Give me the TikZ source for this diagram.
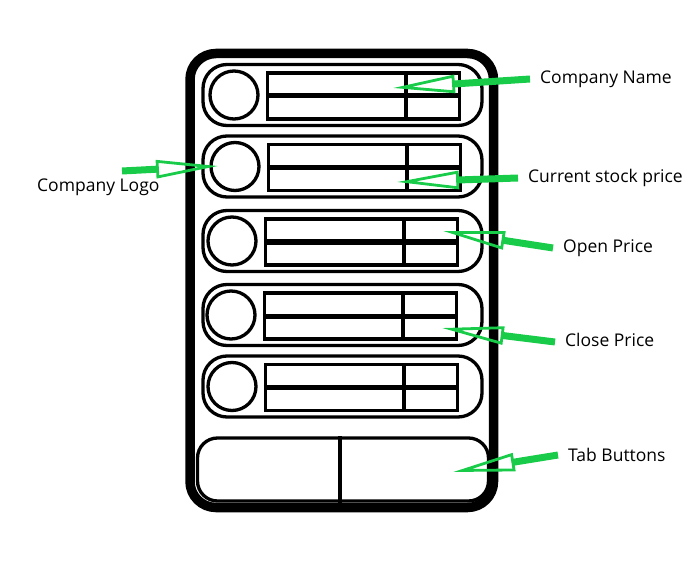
\documentclass[tikz,border=0pt]{standalone}
\usepackage{fontspec}
\setmainfont{Open Sans}
\usetikzlibrary{calc,arrows.meta}
\definecolor{callgreen}{RGB}{24,204,74}

\begin{document}
\begin{tikzpicture}[x=1pt, y=-1pt, font=\fontsize{17.5}{20}\selectfont,
phone/.style={rectangle, draw, line width=9.5pt, rounded corners=26pt, minimum width=303.5pt, minimum height=454pt, inner sep=0pt},
row/.style={rectangle, draw, line width=3.3pt, rounded corners=24pt, minimum width=279pt, minimum height=61pt, inner sep=0pt},
logo/.style={circle, draw, line width=3.3pt, minimum size=48pt, inner sep=0pt},
cell/.style={rectangle, draw, line width=3.4pt, minimum width=192pt, minimum height=46pt, inner sep=0pt},
tabbar/.style={rectangle, draw, line width=3.3pt, rounded corners=20pt, minimum width=291pt, minimum height=63pt, inner sep=0pt},
callout/.style={draw=callgreen, line width=7pt, -{Triangle[open, length=62pt, width=18pt, line width=2.8pt]}},
lbl/.style={anchor=west, inner sep=10pt}]
 \useasboundingbox (0,0) rectangle (696,564);

 % phone body
 \node[phone] (phone) at (341.75,280.5) {};
 \foreach \i/\ry/\dx in {1/95/0, 2/166.5/1, 3/241/-2, 4/315/-3, 5/386.5/-2} {
  \node[row] (row\i) at (342.5,\ry) {};
  \node[logo] (logo\i) at (234+\dx,\ry) {};
  \node[cell] (cell\i) at (363.5+\dx,\ry+1) {};
  \draw[line width=5pt] (cell\i.west) -- (cell\i.east);
  \draw[line width=4.2pt] ($(cell\i.north west)!0.716!(cell\i.north east)$) -- ($(cell\i.south west)!0.716!(cell\i.south east)$);
 }
 \node[tabbar] (tabs) at (343,469.5) {};
 \draw[line width=3.3pt] ([xshift=-3pt]tabs.north) -- ([xshift=-3pt]tabs.south);

 % callouts
 \node[lbl] (namelbl) at (530,79) {Company Name};
 \node[lbl] (logolbl) at (27,187) {Company Logo};
 \node[lbl] (pricelbl) at (518,178) {Current stock price};
 \node[lbl] (openlbl) at (553,248) {Open Price};
 \node[lbl] (closelbl) at (555,340) {Close Price};
 \node[lbl] (tablbl) at (558,455) {Tab Buttons};
 \coordinate (nametip) at (393,88);
 \coordinate (logotail) at (122,171);
 \coordinate (logotip) at (218,166);
 \coordinate (pricetip) at (397,182);
 \coordinate (opentip) at (443,231);
 \coordinate (closetip) at (442,328);
 \coordinate (tabtip) at (453,472);

 \draw[callout] (namelbl.west) -- (nametip);
 \draw[callout] (logotail) -- (logotip);
 \draw[callout] (pricelbl.west) -- (pricetip);
 \draw[callout] (openlbl.west) -- (opentip);
 \draw[callout] ([yshift=-2pt]closelbl.west) -- (closetip);
 \draw[callout] (tablbl.west) -- (tabtip);
\end{tikzpicture}
\end{document}
